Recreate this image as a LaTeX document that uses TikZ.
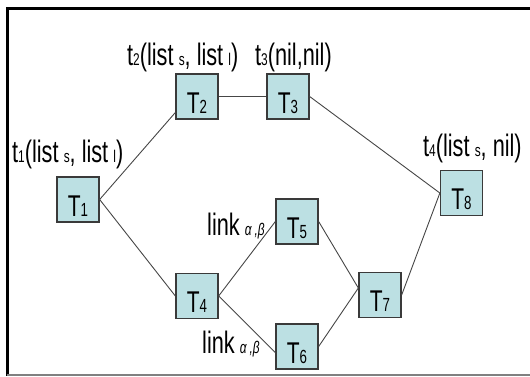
\documentclass[tikz,border=0pt]{standalone}
\usepackage{fontspec}
\setmainfont{Liberation Sans}[FakeStretch=0.8]
\newfontfamily\notefont{Liberation Sans}[FakeStretch=0.7]
\newcommand\lo[1]{{\fontsize{17bp}{17bp}\selectfont #1}}
\newcommand\blo[1]{{\fontsize{19bp}{19bp}\selectfont #1}}
\definecolor{boxfill}{RGB}{188,224,227}
\definecolor{boxline}{RGB}{58,58,58}
\definecolor{wire}{RGB}{70,70,70}
\tikzset{
  task/.style={draw=boxline, line width=1.3bp, fill=boxfill, inner sep=0pt,
    minimum width=42bp, minimum height=45bp, text height=33bp, text depth=0bp,
    font=\notefont\fontsize{30bp}{30bp}\selectfont},
  note/.style={anchor=base west, inner sep=0pt, font=\notefont\fontsize{31bp}{31bp}\selectfont},
  wirestyle/.style={draw=wire, line width=0.9bp},
}
\begin{document}
\begin{tikzpicture}[x=1bp, y=-1bp]
\useasboundingbox (0,0) rectangle (530,376);
% frame
\draw[line width=3bp, black] (6,8.5) -- (530,8.5);
\draw[line width=2.5bp, black] (7.5,7) -- (7.5,376);
\draw[line width=2bp, gray] (6.5,374.5) -- (530,374.5);

% tasks
\node[task] (T1) at (78,199.5) {T\blo{1}};
\node[task] (T2) at (197,96.5) {T\blo{2}};
\node[task] (T3) at (288,96.5) {T\blo{3}};
\node[task] (T4) at (197,296) {T\blo{4}};
\node[task] (T5) at (297,221.5) {T\blo{5}};
\node[task] (T6) at (297,346.5) {T\blo{6}};
\node[task] (T7) at (380,295) {T\blo{7}};
\node[task] (T8) at (461.5,193) {T\blo{8}};

% annotations
\node[note] (l1) at (12,162) {t\lo{1}(list\,\lo{s}, list\,\lo{l})};
\node[note] (l2) at (127,65) {t\lo{2}(list\,\lo{s}, list\,\lo{l})};
\node[note] (l3) at (255,65) {t\lo{3}(nil,nil)};
\node[note] (l4) at (423,156) {t\lo{4}(list\,\lo{s}, nil)};
\node[note] (k1) at (207,235) {link\,\lo{\itshape α\,,β}};
\node[note] (k2) at (202,353) {link\,\lo{\itshape α\,,β}};

% connectors
\draw[wirestyle] (T1.east) -- ([yshift=-16bp]T2.west);
\draw[wirestyle] (T2.east) -- (T3.west);
\draw[wirestyle] (T3.east) -- (T8.west);
\draw[wirestyle] (T1.east) -- (T4.west);
\draw[wirestyle] (T4.east) -- (T5.west);
\draw[wirestyle] (T4.east) -- ([yshift=-6bp]T6.west);
\draw[wirestyle] (T5.east) -- ([yshift=7bp]T7.west);
\draw[wirestyle] (T6.east) -- ([yshift=7bp]T7.west);
\draw[wirestyle] (T7.east) -- (T8.west);
\end{tikzpicture}
\end{document}
